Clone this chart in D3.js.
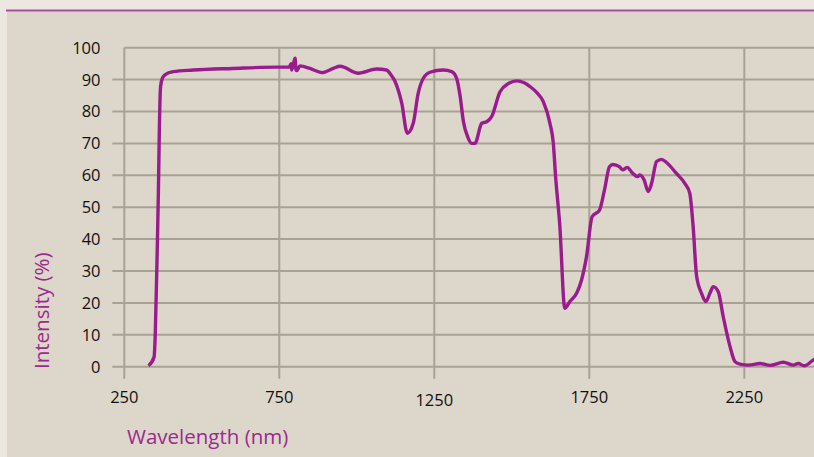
<!DOCTYPE html>
<html>
<head>
  <script src="https://d3js.org/d3.v7.min.js"></script>
  <style>
    html, body {
      margin: 0;
      padding: 0;
      background: #ece8e1;
    }
    svg {
      display: block;
      font-family: "Open Sans", sans-serif;
    }
    .tick-label {
      font-size: 16.5px;
      fill: #111;
    }
    .axis-title {
      font-size: 20.5px;
      fill: #9b2a8e;
    }
    .grid line {
      stroke: #a9a194;
      stroke-width: 2;
    }
    .spectrum {
      fill: none;
      stroke: #9a1b8d;
      stroke-width: 3.4px;
      stroke-linejoin: round;
    }
  </style>
</head>
<body>
  <div id="chart"></div>
  <script>
// measured spectrum (wavelength in nm, intensity in %)
var wavelength = [328, 346, 350, 356, 360, 363, 367, 373, 381, 408, 472, 600, 741, 782,
  788, 790, 797, 801, 804, 806, 817, 849, 887, 924, 946, 1005, 1064, 1096, 1110, 1123,
  1145, 1163, 1182, 1198, 1215, 1236, 1279, 1306, 1322, 1333, 1344, 1358, 1371, 1381,
  1403, 1419, 1435, 1462, 1490, 1516, 1540, 1559, 1580, 1602, 1623, 1634, 1641, 1655,
  1671, 1687, 1709, 1725, 1741, 1759, 1783, 1799, 1815, 1826, 1847, 1858, 1872, 1890,
  1906, 1913, 1927, 1940, 1951, 1967, 1983, 1999, 2031, 2058, 2074, 2085, 2096, 2112,
  2126, 2139, 2150, 2166, 2182, 2204, 2220, 2236, 2263, 2301, 2333, 2376, 2408, 2424,
  2443, 2475, 2500];
var intensity = [0.3, 3, 10.5, 35.6, 55, 74, 87.8, 90.5, 91.5, 92.5, 93, 93.5, 93.9, 93.9,
  95, 93, 95.5, 96.7, 93, 92.8, 94.3, 93.5, 92.2, 93.5, 94.2, 92, 93.3, 93, 91.5, 89.5,
  82.6, 73.2, 76.3, 85.7, 90.5, 92.3, 93, 92.5, 90.4, 85, 76.8, 72, 70, 70,
  76.3, 76.8, 78.4, 86.2, 88.8, 89.6, 89, 87.8, 86, 83, 76.3, 70, 60, 44,
  18.3, 20.4, 23, 27.2, 34.5, 47, 49.1, 55.4, 62.7, 63.4, 62.7, 61.7, 62.5, 60.6,
  59.6, 60.1, 58.5, 54.9, 57.5, 64.3, 65, 64, 60.6, 57.5, 54.4, 43.9, 28.5, 23,
  20.4, 23, 25.1, 23.5, 15.7, 6.3, 1.6, 0.8, 0.5, 1, 0.4, 1.4, 0.5, 1,
  0.3, 2.3, 3.5];

var xTicks = [250, 750, 1250, 1750, 2250];
var yTicks = [0, 10, 20, 30, 40, 50, 60, 70, 80, 90, 100];

var width = 814;
var height = 457;

var x = d3.scaleLinear()
  .domain([250, 2500])
  .range([124.3, 124.3 + 2250 * 0.31]);

var y = d3.scaleLinear()
  .domain([0, 100])
  .range([366.7, 47.7]);

var svg = d3.select("#chart").append("svg")
  .attr("width", width)
  .attr("height", height);

/* Backgrounds and top rule */
svg.append("rect")
  .attr("x", 7).attr("y", 11)
  .attr("width", width - 7).attr("height", height - 11)
  .attr("fill", "#ddd6ca");

svg.append("line")
  .attr("x1", 6).attr("x2", width)
  .attr("y1", 10.5).attr("y2", 10.5)
  .attr("stroke", "#a54f98")
  .attr("stroke-width", 2.2);

/* Grid */
var grid = svg.append("g").attr("class", "grid");

grid.selectAll(".hgrid")
  .data(yTicks).enter()
  .append("line")
  .attr("x1", d => d === 100 ? x(250) : x(250) - 12)
  .attr("x2", width)
  .attr("y1", d => y(d))
  .attr("y2", d => y(d));

grid.selectAll(".vgrid")
  .data(xTicks).enter()
  .append("line")
  .attr("x1", d => x(d))
  .attr("x2", d => x(d))
  .attr("y1", y(100))
  .attr("y2", y(0) + 12);

/* Tick labels */
svg.append("g").selectAll("text")
  .data(yTicks).enter()
  .append("text")
  .attr("class", "tick-label")
  .attr("x", 100.5)
  .attr("y", d => y(d))
  .attr("dy", "0.36em")
  .attr("text-anchor", "end")
  .text(d => d);

svg.append("g").selectAll("text")
  .data(xTicks).enter()
  .append("text")
  .attr("class", "tick-label")
  .attr("x", d => x(d))
  .attr("y", d => d === 1250 ? 405.5 : 403)
  .attr("text-anchor", "middle")
  .text(d => d);

/* Axis titles */
svg.append("text")
  .attr("class", "axis-title")
  .attr("x", 127)
  .attr("y", 444)
  .text("Wavelength (nm)");

svg.append("text")
  .attr("class", "axis-title")
  .attr("transform", "translate(49, 369) rotate(-90)")
  .text("Intensity (%)");

/* Spectrum line */
var points = wavelength.map((w, i) => ({w: w, v: intensity[i]}));

var line = d3.line()
  .curve(d3.curveMonotoneX)
  .x(d => x(d.w))
  .y(d => y(d.v));

svg.append("path")
  .datum(points)
  .attr("class", "spectrum")
  .attr("d", line);
  </script>
</body>
</html>
